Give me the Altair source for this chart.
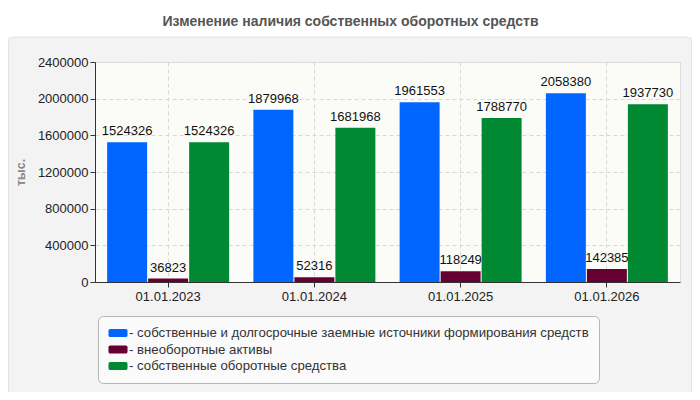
import altair as alt
import pandas as pd

dates = ["01.01.2023", "01.01.2024", "01.01.2025", "01.01.2026"]
series_names = [
    "собственные и долгосрочные заемные источники формирования средств",
    "внеоборотные активы",
    "собственные оборотные средства",
]
series_colors = ["#0066ff", "#660033", "#008833"]
values_sources = [1524326, 1879968, 1961553, 2058380]
values_noncurrent = [36823, 52316, 118249, 142385]
values_own_working = [1524326, 1681968, 1788770, 1937730]
y_ticks = [0, 400000, 800000, 1200000, 1600000, 2000000, 2400000]

rows = []
for i, d in enumerate(dates):
    for name, vals in zip(series_names, [values_sources, values_noncurrent, values_own_working]):
        rows.append({"date": d, "series": name, "value": vals[i]})
df = pd.DataFrame(rows)

FONT = "Liberation Sans"

x_enc = alt.X(
    "date:N", sort=dates, title=None,
    scale=alt.Scale(paddingInner=0, paddingOuter=0),
    axis=alt.Axis(labelAngle=0, labelFontSize=13, labelColor="#222", domainColor="#333",
                  tickColor="#333", tickSize=5, labelPadding=3, grid=True,
                  gridDash=[4, 3], gridColor="#d8d8d8"),
)
xo_enc = alt.XOffset("series:N", sort=series_names,
                     scale=alt.Scale(paddingInner=0.025, paddingOuter=0.296))
y_enc = alt.Y(
    "value:Q",
    scale=alt.Scale(domain=[0, 2400000], nice=False),
    axis=alt.Axis(values=y_ticks, format="d", title="тыс.", titleFontSize=12.5,
                  titleFontWeight="bold", titleColor="#888", titlePadding=10,
                  labelFontSize=13, labelColor="#222", domainColor="#333", tickColor="#333",
                  tickSize=5, labelPadding=2, grid=True, gridDash=[4, 3], gridColor="#d8d8d8"),
)

# rounded swatch, 19px wide x 8px tall when symbolSize=196 (unit = 7px)
rounded = ("M-1.1,-0.57H1.1A0.26,0.26,0,0,1,1.36,-0.31V0.31A0.26,0.26,0,0,1,1.1,0.57"
           "H-1.1A0.26,0.26,0,0,1,-1.36,0.31V-0.31A0.26,0.26,0,0,1,-1.1,-0.57Z")

bars = alt.Chart(df).mark_bar().encode(
    x=x_enc, xOffset=xo_enc, y=y_enc,
    color=alt.Color(
        "series:N", sort=series_names,
        scale=alt.Scale(domain=series_names, range=series_colors),
        legend=alt.Legend(
            title=None, orient="none", legendX=3, legendY=254, direction="vertical",
            fillColor="#fafafa", strokeColor="#b5b5b5", cornerRadius=5, padding=10,
            labelFontSize=13.2, labelColor="#333", labelLimit=700, labelOffset=4,
            symbolType=rounded, symbolSize=196, symbolStrokeWidth=0, symbolOpacity=1,
            symbolOffset=3, rowPadding=2.5, labelExpr="'- ' + datum.label",
        ),
    ),
)

labels = alt.Chart(df).mark_text(dy=-7, fontSize=13, color="#111", baseline="alphabetic").encode(
    x=x_enc, xOffset=xo_enc, y=y_enc, text=alt.Text("value:Q", format="d"),
)

white_strip = alt.Chart(alt.Data(values=[{}])).mark_rect(color="white").encode(
    x=alt.value(-87), x2=alt.value(597), y=alt.value(-54), y2=alt.value(-25),
)
panel_border = alt.Chart(alt.Data(values=[{}])).mark_rect(
    fill="transparent", stroke="#e2e2e2", cornerRadius=6, strokeWidth=1
).encode(
    x=alt.value(-86.5), x2=alt.value(596.5), y=alt.value(-25), y2=alt.value(340),
)

chart = alt.layer(white_strip, panel_border, bars, labels).properties(
    width=585, height=220,
    autosize=alt.AutoSizeParams(type="none"),
    padding={"left": 87, "top": 54, "right": 12, "bottom": 110},
    background="#f3f3f3",
    title=alt.TitleParams("Изменение наличия собственных оборотных средств", fontSize=14,
                          fontWeight="bold", color="#555", anchor="middle", dx=-37, offset=-21,
                          font=FONT),
).configure(font=FONT).configure_view(fill="#fbfbf7", stroke="#dddddd")

chart.save("out.html", embed_options={"renderer": "svg", "actions": False})
